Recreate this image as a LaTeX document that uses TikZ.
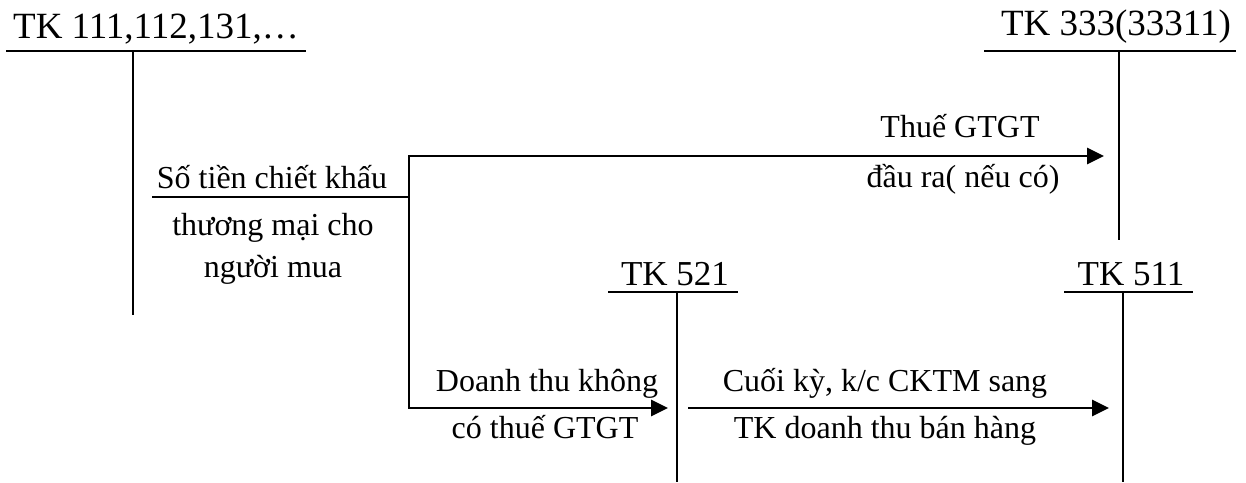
\documentclass[tikz,border=0pt]{standalone}
\usepackage{fontspec}
\setmainfont{Liberation Serif}
\usetikzlibrary{arrows.meta}

\begin{document}
\begin{tikzpicture}[x=1pt,y=-1pt,
  acchead/.style={font=\fontsize{37}{44}\selectfont,anchor=base,inner sep=0pt},
  accsub/.style={font=\fontsize{35}{42}\selectfont,anchor=base,inner sep=0pt},
  txt/.style={font=\fontsize{32}{38}\selectfont,anchor=base,inner sep=0pt},
  tline/.style={line width=2.2pt},
  arr/.style={line width=2.8pt,-{Triangle[length=17pt,width=16pt]}}]
\useasboundingbox (0,0) rectangle (1246,482);
% account headers
\node[acchead] (tk111) at (156,38) {TK 111,112,131,…};
\node[acchead] (tk333) at (1116,35) {TK 333(33311)};
\node[accsub] (tk521) at (675,285) {TK 521};
\node[accsub] (tk511) at (1131,285) {TK 511};
% T accounts
  \foreach \nm/\lft/\mid/\rgt/\top/\bot in {t111/6/133/306/51/315,t333/984/1119/1236/51/240,t521/608/677/738/292/482,t511/1064/1123/1193/292/482}
  {  \coordinate (\nm-l) at (\lft,\top);
     \coordinate (\nm-r) at (\rgt,\top);
     \coordinate (\nm-t) at (\mid,\top);
     \coordinate (\nm-b) at (\mid,\bot);
     \draw[tline] (\nm-l) -- (\nm-r);
     \draw[tline] (\nm-t) -- (\nm-b);}
% branch
\coordinate (br-l) at (152,197);
\coordinate (br-m) at (409,197);
\coordinate (vat-e) at (1104,156);
\coordinate (dt-e) at (668,408);
\coordinate (kc-s) at (688,408);
\coordinate (kc-e) at (1109,408);
\draw[tline] (br-l) -- (br-m);
\draw[arr] (br-m) |- (vat-e);
\draw[arr] (br-m) |- (dt-e);
\draw[arr] (kc-s) -- (kc-e);
% labels
\node[txt] (ck1) at (272,188) {Số tiền chiết khấu};
\node[txt] (ck2) at (273,235) {thương mại cho};
\node[txt] (ck3) at (273,277) {người mua};
\node[txt] (vat1) at (960,137) {Thuế GTGT};
\node[txt] (vat2) at (963,187) {đầu ra( nếu có)};
\node[txt] (dt1) at (547,391) {Doanh thu không};
\node[txt] (dt2) at (545,438) {có thuế GTGT};
\node[txt] (kc1) at (885,391) {Cuối kỳ, k/c CKTM sang};
\node[txt] (kc2) at (885,438) {TK doanh thu bán hàng};
\end{tikzpicture}
\end{document}
